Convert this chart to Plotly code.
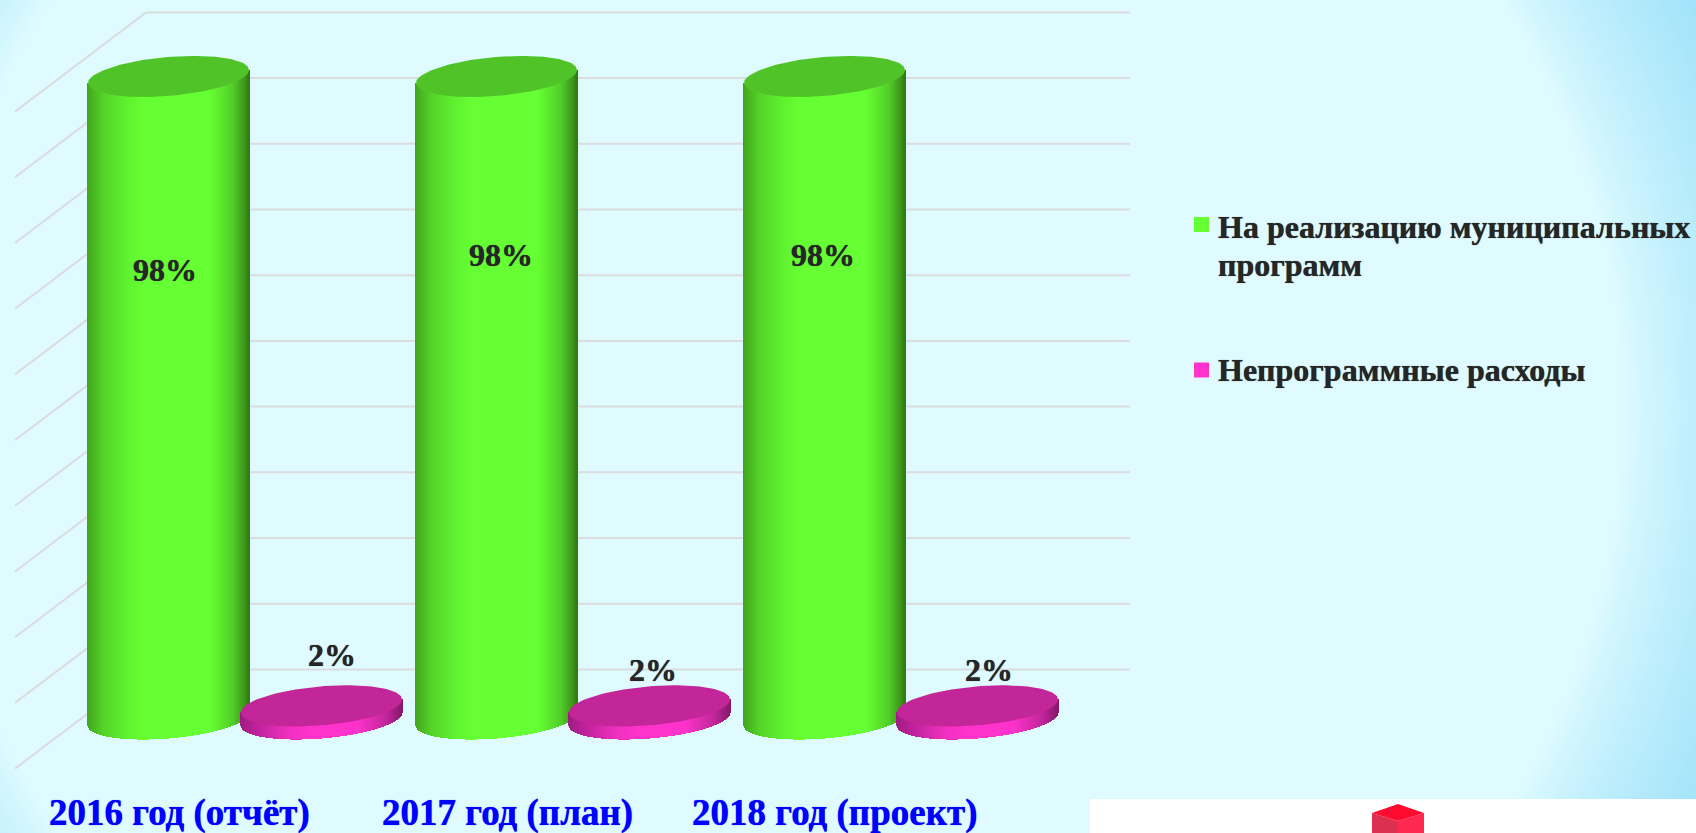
import numpy as np
import plotly.graph_objects as go

# ---- data ----
categories = ["2016 год (отчёт)", "2017 год (план)", "2018 год (проект)"]
series_lines = [["На реализацию муниципальных", "программ"], ["Непрограммные расходы"]]
programme_values = [97.8, 97.8, 97.8]
other_values = [2, 2, 2]
grid_ticks = [0, 10, 20, 30, 40, 50, 60, 70, 80, 90, 100]

# ---- styling constants (pixels of the 1696x833 page) ----
W, H = 1696, 833
GROUP_PX = 328.0
ZERO_X_PX = 245.0
ZERO_Y_PX = 719.0
PX_PER_UNIT = 6.57
BAR_OFFSET_PX = 76.5
BAR_HALF_W = 80.5
ELL_B = 19.5
ELL_K = 6.5
DEPTH = 7.55
FONT = "Liberation Serif"
TXT = "#262626"
SOFT = "0 0 0.8px #262626"


def X(p):
    return (np.asarray(p, float) - ZERO_X_PX) / GROUP_PX


def Y(p):
    return (ZERO_Y_PX - np.asarray(p, float)) / PX_PER_UNIT


x_range = [float(X(0)), float(X(W))]
y_range = [float(Y(H)), float(Y(0))]
fig = go.Figure()

# ---- page background: soft elliptical vignette ----
gx = np.linspace(-20, W + 20, 140)
gy = np.linspace(-20, H + 20, 80)
PX, PY = np.meshgrid(gx, gy)
d = np.sqrt(((PX - 775) / 848) ** 2 + ((PY - 410) / 795) ** 2)
t = np.clip((d - 1) / 0.22, 0, 1) ** 0.75
fig.add_trace(go.Heatmap(x=X(gx), y=Y(gy), z=t, zmin=0, zmax=1, zsmooth="best",
                         colorscale=[[0, "#DFFBFF"], [1, "#9DE1F9"]],
                         showscale=False, hoverinfo="skip"))

# ---- white panel and red cube, bottom right ----
for pts, col in [
    ([(1090, 799), (1700, 799), (1700, 840), (1090, 840)], "#FFFFFF"),
    ([(1372, 813), (1398, 821), (1398, 840), (1372, 840)], "#DB3050"),
    ([(1398, 821), (1424, 813), (1424, 840), (1398, 840)], "#FF2850"),
    ([(1398, 804), (1424, 813), (1398, 821), (1372, 813)], "#FF0A30"),
]:
    xs, ys = zip(*pts)
    fig.add_trace(go.Scatter(x=X(list(xs) + [xs[0]]), y=Y(list(ys) + [ys[0]]), mode="lines", fill="toself",
                             fillcolor=col, line=dict(width=0, color=col), hoverinfo="skip", showlegend=False))

# ---- 3D grid: back wall and side wall ----
GRID_BACK_L = float(X(146))
GRID_BACK_R = float(X(1130))
GRID_FRONT_L = float(X(15))
gxs, gys = [], []
for v in grid_ticks:
    gxs += [GRID_FRONT_L, GRID_BACK_L, GRID_BACK_R, None]
    gys += [v - DEPTH, v + DEPTH, v + DEPTH, None]
fig.add_trace(go.Scatter(x=gxs, y=gys, mode="lines", line=dict(color="#DADCDD", width=2),
                         hoverinfo="skip", showlegend=False))


def lerp_stops(stops, f):
    fs = [s[0] for s in stops]
    rgb = [np.interp(f, fs, [s[1][i] for s in stops]) for i in range(3)]
    return "rgb(%d,%d,%d)" % tuple(int(round(c)) for c in rgb)


GREEN_STOPS = [(0, (66, 165, 30)), (0.10, (84, 212, 40)), (0.25, (96, 242, 48)), (0.36, (102, 255, 51)),
               (0.76, (102, 255, 51)), (0.90, (82, 206, 40)), (0.97, (62, 155, 28)), (1, (50, 125, 20))]
PINK_STOPS = [(0, (160, 28, 130)), (0.08, (185, 32, 150)), (0.3, (240, 48, 192)), (0.45, (255, 51, 204)),
              (0.72, (255, 51, 204)), (0.9, (195, 38, 155)), (1, (135, 24, 108))]


def cylinder(center_x, value, stops, top_color):
    cpx = ZERO_X_PX + center_x * GROUP_PX
    us = np.arange(-BAR_HALF_W, BAR_HALF_W + 0.5, 1.0)
    uf = np.clip(us / BAR_HALF_W, -1, 1)
    shear = ELL_K * uf / PX_PER_UNIT
    low = ELL_B * np.sqrt(1 - uf ** 2) / PX_PER_UNIT
    base = shear - low
    top = value + shear
    colors = [lerp_stops(stops, (f + 1) / 2) for f in uf]
    fig.add_trace(go.Bar(x=X(cpx + us), y=top - base, base=base, width=1.4 / GROUP_PX,
                         marker=dict(color=colors, line=dict(width=0)),
                         hoverinfo="skip", showlegend=False, xaxis="x2", yaxis="y2"))
    th = np.linspace(0, 2 * np.pi, 120)
    ex = X(cpx + BAR_HALF_W * np.cos(th))
    ey = value + (ELL_K * np.cos(th) + ELL_B * np.sin(th)) / PX_PER_UNIT
    fig.add_trace(go.Scatter(x=ex, y=ey, mode="lines", fill="toself", fillcolor=top_color,
                             line=dict(width=0, color=top_color), hoverinfo="skip", showlegend=False,
                             xaxis="x2", yaxis="y2"))


bar_off = BAR_OFFSET_PX / GROUP_PX
for i in range(len(categories)):
    cylinder(i - bar_off, programme_values[i], GREEN_STOPS, "#50C328")
    cylinder(i + bar_off, other_values[i], PINK_STOPS, "#C22698")

# ---- value labels ----
label_shift_big = [(-4, -194), (4, -179), (-2, -179)]
label_shift_small = [(10, 51), (3, 36), (11, 36)]
annots = []
for i in range(len(categories)):
    dx, dy = label_shift_big[i]
    annots.append(dict(x=i - bar_off, y=programme_values[i], xref="x", yref="y", xshift=dx, yshift=dy,
                       text=f"<b>{round(programme_values[i])}%</b>", showarrow=False,
                       font=dict(family=FONT, size=32, color=TXT, shadow=SOFT)))
    dx, dy = label_shift_small[i]
    annots.append(dict(x=i + bar_off, y=other_values[i], xref="x", yref="y", xshift=dx, yshift=dy,
                       text=f"<b>{other_values[i]}%</b>", showarrow=False,
                       font=dict(family=FONT, size=32, color=TXT, shadow=SOFT)))
    annots.append(dict(x=i - 0.2, y=float(Y(813)), xref="x", yref="y", text=f"<b>{categories[i]}</b>",
                       showarrow=False, font=dict(family=FONT, size=37, color="#0000FF",
                                                  shadow="0 0 0.8px #0000FF")))

# ---- legend ----
legend_marker_y_px = [224.5, 370]
legend_text_y_px = [[227, 265], [370]]
for lines, ym, yts, col in zip(series_lines, legend_marker_y_px, legend_text_y_px, ["#66FF33", "#FF33CC"]):
    fig.add_trace(go.Scatter(x=[float(X(1201.5))], y=[float(Y(ym))], mode="markers",
                             marker=dict(symbol="square", size=15, color=col, line=dict(width=0)),
                             hoverinfo="skip", showlegend=False, xaxis="x2", yaxis="y2"))
    for line, yt in zip(lines, yts):
        annots.append(dict(x=float(X(1216)), y=float(Y(yt)), xref="x", yref="y", xanchor="left", align="left",
                           text=f"<b>{line}</b>", showarrow=False,
                           font=dict(family=FONT, size=32, color=TXT, shadow=SOFT)))

fig.update_layout(
    width=W, height=H, margin=dict(l=0, r=0, t=0, b=0),
    paper_bgcolor="#DFFBFF", plot_bgcolor="rgba(0,0,0,0)",
    barmode="overlay", bargap=0, showlegend=False,
    xaxis=dict(range=x_range, visible=False, fixedrange=True),
    yaxis=dict(range=y_range, visible=False, fixedrange=True),
    xaxis2=dict(range=x_range, visible=False, fixedrange=True, overlaying="x"),
    yaxis2=dict(range=y_range, visible=False, fixedrange=True, overlaying="y"),
    annotations=annots,
)
fig.write_html("out.html", config={"displayModeBar": False},
               post_script="document.body.style.margin='0';document.body.style.overflow='hidden';")
